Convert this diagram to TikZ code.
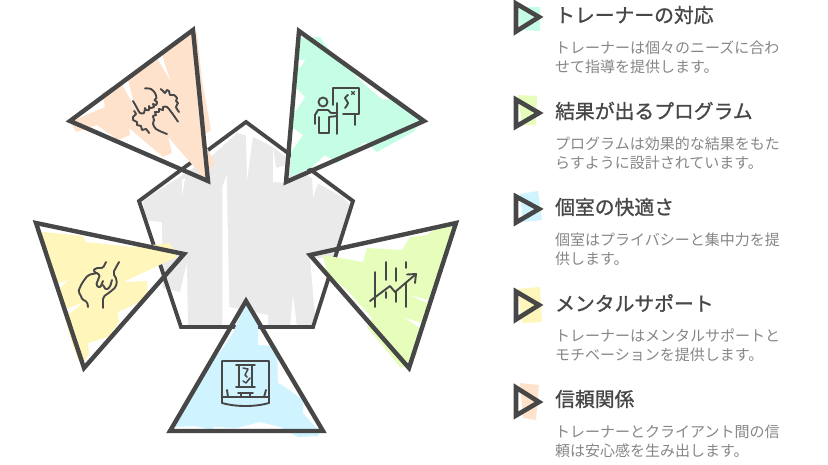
\documentclass[tikz,border=0pt]{standalone}
\usepackage{fontspec}
\setmainfont{Noto Sans CJK JP}
\newfontfamily\headfont[FakeBold=1.1]{Noto Sans CJK JP}
\definecolor{darkline}{HTML}{474747}
\definecolor{bodygray}{HTML}{868686}
\definecolor{sheetgray}{HTML}{EAEAEA}
\definecolor{peachfill}{HTML}{FFE2CC}
\definecolor{mintfill}{HTML}{C6FDE5}
\definecolor{sandfill}{HTML}{FFF6BC}
\definecolor{limefill}{HTML}{E6FDBB}
\definecolor{skyfill}{HTML}{CFF3FF}
\tikzset{
  outline/.style={draw=darkline, line width=4.4pt, line join=miter, miter limit=3},
  markline/.style={draw=darkline, line width=4.6pt, line join=miter},
  iconline/.style={draw=darkline, line width=1.9pt, line cap=round, line join=round},
  gap/.style={fill=white, draw=none},
  headtext/.style={anchor=west, inner sep=0pt, text=darkline, font=\headfont\fontsize{19.8}{24}\selectfont},
  bodytext/.style={anchor=west, inner sep=0pt, text=bodygray, align=left, font=\fontsize{15}{18.8}\selectfont}
}
\begin{document}
\begin{tikzpicture}[x=1pt, y=-1pt]
  \useasboundingbox (0, 0) rectangle (828, 464);

  % centre sheet
  \fill[sheetgray] (143, 200) -- (172, 182) -- (213, 155) -- (237, 133) -- (253, 137) -- (273, 147) -- (287, 158) -- (317, 183) -- (343, 197) -- (350, 205)
    -- (338, 245) -- (315, 315) -- (312, 325) -- (188, 325) -- (187, 262) -- (180, 292) -- (163, 288) -- (162, 222) -- (145, 220) -- cycle;
  \fill[gap] (226.7, 175) -- (222.3, 187) -- (222.3, 327) -- (268, 327) -- (268, 315) -- (229.3, 307) -- cycle;
  \fill[gap] (253, 136) -- (247, 180) -- (246, 135) -- cycle;
  \fill[gap] (273, 147) -- (273, 182) -- (287, 183) -- (287, 165) -- (276, 168) -- cycle;
  \fill[gap] (312, 172) -- (313, 197) -- (318, 183) -- cycle;
  \fill[gap] (182, 180) -- (182, 197) -- (185, 178) -- cycle;
  \fill[gap] (293, 295) -- (290, 327) -- (297, 327) -- cycle;
  \fill[gap] (310, 258) -- (315, 315) -- (325, 300) -- (330, 258) -- cycle;
  \draw[outline, line width=3.8pt] (246, 122) -- (353, 201) -- (313, 327) -- (181, 327) -- (139, 201) -- cycle;

  % peach triangle
  \fill[peachfill] (193, 31) -- (197, 33) -- (202, 80) -- (211, 130) -- (201, 137) -- (215, 163) -- (204, 178) -- (168, 137) -- (172, 153) -- (163, 157) -- (129, 128)
    -- (130, 135) -- (118, 140) -- (97, 125) -- (76, 132) -- (70, 122) -- (105, 107) -- (102, 93) -- (125, 80) -- cycle;
  \fill[gap] (157, 58) -- (170, 80) -- (162, 55) -- cycle;
  \fill[gap] (122, 84) -- (135, 108) -- (128, 80) -- cycle;
  \draw[outline] (193, 30) -- (208, 181) -- (70, 121) -- cycle;
  \draw[iconline] plot[smooth, tension=0.5] coordinates {(145, 88.3) (151, 89) (155, 93) (156.5, 98) (154.5, 100) (157, 102) (156, 105) (153, 104) (154, 107) (150, 108) (149, 106) (149, 110) (146, 110) (145, 108) (144, 113) (140, 113) (137, 108) (133, 101)};
  \draw[iconline] plot[smooth, tension=0.5] coordinates {(160.7, 89) (163, 91) (165, 93) (167, 90) (169, 91) (170, 95) (174, 95) (177, 98) (176, 101) (178, 103) (176, 107) (179, 112)};
  \draw[iconline] plot[smooth, tension=0.5] coordinates {(178, 121.7) (172, 113) (167, 107) (163, 107) (163, 110) (159, 109) (159, 112) (155, 112) (156, 115) (153, 116) (154, 120) (153, 124) (156, 129) (162, 132) (167, 134)};
  \draw[iconline] plot[smooth, tension=0.5] coordinates {(134, 111) (136, 114) (133, 117) (133, 120) (137, 122) (137, 125) (141, 126) (142, 130) (146, 129) (149, 133)};

  % mint triangle
  \fill[mintfill] (297, 38) -- (320, 37) -- (327, 47) -- (363, 83) -- (383, 100) -- (397, 98) -- (422, 122) -- (413, 132) -- (377, 152) -- (365, 142) -- (337, 163)
    -- (325, 155) -- (312, 167) -- (290, 177) -- cycle;
  \fill[gap] (305, 60) -- (300, 68) -- (296, 60) -- cycle;
  \fill[gap] (305, 97) -- (295, 112) -- (296, 88) -- cycle;
  \fill[gap] (303, 135) -- (290, 153) -- (293, 128) -- cycle;
  \draw[outline] (299, 31) -- (424, 121) -- (286, 182) -- cycle;
  \draw[iconline] (323, 102) circle (4.5);
  \draw[iconline] (315, 124) -- (315, 115) -- (318, 110) -- (328, 110) -- (331, 113) -- (337, 113) -- (337, 116) -- (329, 117) -- (329, 133) -- (319, 133) -- (319, 117);
  \draw[iconline] (337, 103) -- (337, 134);
  \draw[iconline] (333, 105) -- (333, 88) -- (359, 88) -- (359, 114) -- (343, 114);
  \draw[iconline] (355, 115) -- (355, 125);
  \draw[iconline] plot[smooth] coordinates {(348, 95) (345, 98) (348, 103) (345, 108)};
  \draw[iconline, line width=1.4pt] (351.5, 91.5) -- (354.5, 94.5);
  \draw[iconline, line width=1.4pt] (354.5, 91.5) -- (351.5, 94.5);

  % sand triangle
  \fill[sandfill] (44, 232) -- (83, 236) -- (86, 242) -- (132, 247) -- (170, 243) -- (177, 257) -- (123, 282) -- (147, 281) -- (148, 298) -- (118, 312) -- (119, 323) -- (108, 337)
    -- (88, 343) -- (89, 353) -- (84, 362) -- (78, 360) -- (72, 343) -- (40, 233) -- cycle;
  \fill[gap] (57, 284) -- (68, 280) -- (60, 288) -- cycle;
  \fill[gap] (66, 309) -- (83, 303) -- (70, 313) -- cycle;
  \draw[outline] (36, 223) -- (184, 254) -- (84, 368) -- cycle;
  \draw[iconline, rounded corners=2pt] (88, 307) -- (87, 301) -- (82, 300) -- (81, 295) -- (78, 292) -- (82, 283) -- (88, 275) -- (97, 273);
  \draw[iconline, rounded corners=1.5pt] (106, 262) -- (103, 268) -- (96, 268) -- (93, 271) -- (100, 275) -- (96, 285) -- (100, 288) -- (103, 281);
  \draw[iconline, rounded corners=1.5pt] (103, 285) -- (106, 290) -- (110, 287) -- (112, 280);
  \draw[iconline, rounded corners=2pt] (119, 262) -- (113, 273) -- (117, 280) -- (116, 287) -- (110, 292) -- (103, 297) -- (103, 308);

  % lime triangle
  \fill[limefill] (323, 255) -- (363, 262) -- (367, 248) -- (402, 250) -- (410, 237) -- (427, 235) -- (443, 223) -- (453, 222) -- (447, 253) -- (418, 347) -- (417, 353) -- (410, 367)
    -- (400, 367) -- (367, 327) -- (372, 318) -- (347, 290) -- (327, 273) -- cycle;
  \fill[gap] (410, 295) -- (428, 300) -- (427, 303) -- cycle;
  \fill[gap] (405, 318) -- (422, 323) -- (420, 328) -- cycle;
  \draw[outline] (456, 223) -- (310, 255) -- (409, 368) -- cycle;
  \draw[iconline] (375, 272) -- (375, 307);
  \draw[iconline] (386, 262) -- (386, 280);
  \draw[iconline] (386, 292) -- (386, 298);
  \draw[iconline] (396, 268) -- (396, 281);
  \draw[iconline] (396, 292) -- (396, 302);
  \draw[iconline] (406, 262) -- (406, 268);
  \draw[iconline] (406, 283) -- (406, 307);
  \draw[iconline] (370, 301) -- (390, 286) -- (395, 292) -- (416, 274);
  \draw[iconline] (407, 274.5) -- (416, 274) -- (415, 283);

  % sky triangle
  \fill[skyfill] (246, 301) -- (258, 322) -- (258, 345) -- (277, 346) -- (278, 383) -- (285, 387) -- (303, 400) -- (303, 413) -- (320, 432) -- (318, 436) -- (298, 437) -- (280, 427)
    -- (260, 422) -- (237, 428) -- (213, 427) -- (213, 430) -- (195, 426) -- (172, 427) -- (185, 400) -- (195, 385) -- (225, 345) -- (233, 333) -- cycle;
  \draw[outline] (246, 301) -- (323, 431) -- (170, 431) -- cycle;
  \draw[iconline] (222, 361) -- (269, 361) -- (269, 403) .. controls (255, 407) and (236, 407) .. (222, 403) -- cycle;
  \draw[iconline] (222, 397) -- (269, 397);
  \draw[iconline] (236, 365) -- (255, 365);
  \draw[iconline] (236, 387) -- (255, 387);
  \draw[iconline] (239, 365) -- (239, 387);
  \draw[iconline] (252, 365) -- (252, 387);
  \draw[iconline, line width=1.5pt] (243, 368) -- (248, 369) -- (245, 375) -- (247, 377);
  \draw[iconline, line width=1.5pt] (250, 378) -- (246, 383) -- (243, 381);
  \draw[iconline] (238, 393) -- (253, 393);
  \draw[iconline] (241, 393) -- (241, 397);
  \draw[iconline] (250, 393) -- (250, 397);
  \draw[iconline] (227, 390) -- (228, 397) -- (235, 397);
  \draw[iconline] (266, 390) -- (264, 397) -- (257, 397);

  % legend marks
  \fill[mintfill] (518, 7) -- (540, 7) -- (540, 31) -- (520, 30) -- cycle;
  \draw[markline] (516, 3.5) -- (539, 17) -- (516, 31.5) -- cycle;
  \fill[limefill] (518, 95) -- (537, 96) -- (536, 125) -- (522, 125) -- cycle;
  \draw[markline] (516, 99.5) -- (539, 113) -- (516, 126.5) -- cycle;
  \fill[skyfill] (520, 194) -- (538, 191) -- (542, 220) -- (523, 222) -- cycle;
  \draw[markline] (516, 196.5) -- (539, 209) -- (516, 222.5) -- cycle;
  \fill[sandfill] (518, 289) -- (540, 287) -- (542, 322) -- (522, 323) -- cycle;
  \draw[markline] (516, 291.5) -- (539, 305) -- (516, 319.5) -- cycle;
  \fill[peachfill] (520, 383) -- (539, 385) -- (536, 420) -- (523, 418) -- cycle;
  \draw[markline] (516, 387.5) -- (539, 402) -- (516, 415.5) -- cycle;

  % legend texts
  \node[headtext] (coachhead) at (555, 15) {トレーナーの対応};
  \node[bodytext] (coachbody) at (555, 57.5) {トレーナーは個々のニーズに合わ\\せて指導を提供します。};
  \node[headtext] (resulthead) at (555, 111) {結果が出るプログラム};
  \node[bodytext] (resultbody) at (555, 153.5) {プログラムは効果的な結果をもた\\らすように設計されています。};
  \node[headtext] (roomhead) at (555, 207) {個室の快適さ};
  \node[bodytext] (roombody) at (555, 249.5) {個室はプライバシーと集中力を提\\供します。};
  \node[headtext] (mentalhead) at (555, 303) {メンタルサポート};
  \node[bodytext] (mentalbody) at (555, 345.5) {トレーナーはメンタルサポートと\\モチベーションを提供します。};
  \node[headtext] (trusthead) at (555, 399) {信頼関係};
  \node[bodytext] (trustbody) at (555, 441.5) {トレーナーとクライアント間の信\\頼は安心感を生み出します。};
\end{tikzpicture}
\end{document}
